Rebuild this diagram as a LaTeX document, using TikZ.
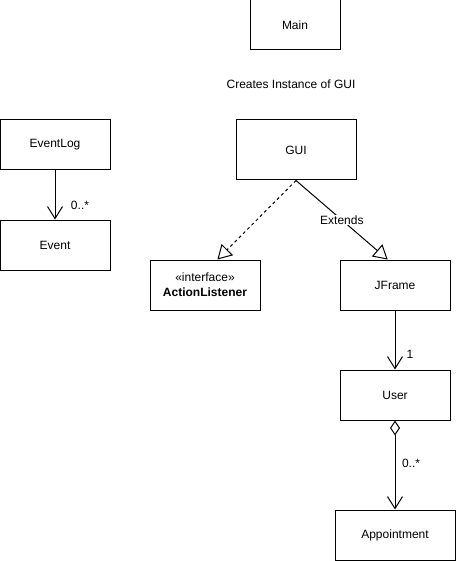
\documentclass[tikz,border=0pt]{standalone}
\usepackage{fontspec}
\setmainfont{Liberation Sans}
\usetikzlibrary{arrows.meta}
\newcommand*{\w}{110}

\begin{document}
\begin{tikzpicture}[
   x=1pt, y=-1pt,
   font=\fontsize{12}{14}\selectfont,
   classbox/.style={rectangle, draw=black, fill=white, line width=1, text=black,
                    inner sep=1, minimum width=\w, minimum height=50},
   widebox/.style={classbox, minimum width=120},
   assoc/.style={-{Straight Barb[length=12, width=15]}, line width=1},
   aggr/.style={{Diamond[open, length=15, width=10]}-{Straight Barb[length=12, width=15]}, line width=1},
   realize/.style={-{Triangle[open, length=14, width=16]}, line width=1, dash pattern=on 3 off 3},
   extend/.style={-{Triangle[open, length=14, width=16]}, line width=1},
   mult/.style={inner sep=1}
  ]

  \useasboundingbox (0, 0) rectangle (456, 561);

  \node (MA) at (295, 25) [classbox, minimum width=90] {Main};

  \node (CR) at (291, 84) [inner sep=1] {Creates Instance of GUI};

  \node (GU) at (296, 150) [widebox, minimum height=60] {GUI};

  \node (EL) at (55, 145) [classbox] {EventLog};

  \node (EV) at (55, 245) [classbox] {Event};

  \node (AL) at (205, 285) [classbox, align=center]
    {«interface»\\[1pt]\textbf{ActionListener}};

  \node (JF) at (395, 285) [classbox] {JFrame};

  \node (US) at (395, 395) [classbox] {User};

  \node (AP) at (395, 535) [widebox] {Appointment};

  % Connectors
  \foreach \B/\E in {EL/EV, JF/US} {
    \draw[assoc] (\B) -- (\E);
  }
  \draw[aggr] (US) -- (AP);
  \draw[realize] (GU.south) -- (AL.64);
  \draw[extend] (GU.south) -- node[fill=white, inner sep=1] {Extends} (JF.106);

  % Multiplicities
  \node (M1) at (80, 205) [mult] {0..*};
  \node (M2) at (410, 354) [mult] {1};
  \node (M3) at (411, 463) [mult] {0..*};

\end{tikzpicture}
\end{document}
